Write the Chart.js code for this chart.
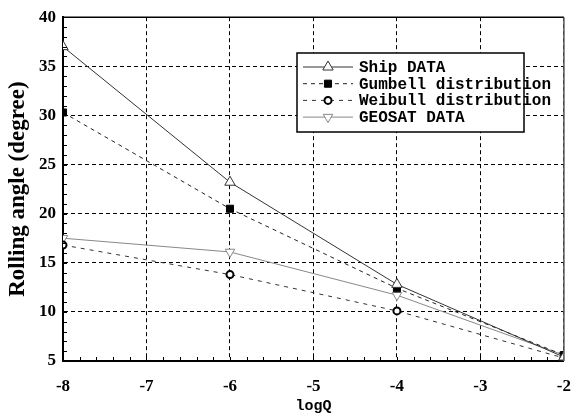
<!DOCTYPE html>
<html>
<head>
<meta charset="UTF-8">
<title>Rolling angle vs logQ</title>
<script src="https://cdn.jsdelivr.net/npm/chart.js"></script>
<style>
  body { margin: 0; background: #fff; }
  #wrap { width: 586px; height: 419px; }
</style>
</head>
<body>
<div id="wrap"><canvas id="c" width="586" height="419"></canvas></div>
<script>
// data
const logQ = [-8, -6, -4, -2];
const shipData = [37.0, 23.2, 12.8, 5.4];
const gumbell = [30.3, 20.5, 12.4, 5.6];
const weibull = [16.8, 13.8, 10.1, 5.3];
const geosat = [17.5, 16.1, 11.7, 5.6];
const seriesNames = ['Ship DATA', 'Gumbell distribution', 'Weibull distribution', 'GEOSAT DATA'];

const toPts = arr => arr.map((v, i) => ({ x: logQ[i], y: v }));

// small inward ticks along left and bottom axes
const minorTicks = {
  id: 'minorTicks',
  afterDraw(chart) {
    const { ctx, scales: { x, y }, chartArea: a } = chart;
    ctx.save();
    ctx.strokeStyle = '#000';
    ctx.lineWidth = 1;
    ctx.beginPath();
    for (let v = -8; v <= -2.001; v += 0.2) {
      const px = Math.round(x.getPixelForValue(v)) + 0.5;
      ctx.moveTo(px, a.bottom);
      ctx.lineTo(px, a.bottom - 4);
    }
    for (let v = 5; v <= 40; v += 1) {
      const py = Math.round(y.getPixelForValue(v)) + 0.5;
      ctx.moveTo(a.left, py);
      ctx.lineTo(a.left + 4, py);
    }
    ctx.stroke();
    ctx.restore();
  }
};

// legend box drawn inside the plot
const boxLegend = {
  id: 'boxLegend',
  afterDraw(chart) {
    const ctx = chart.ctx;
    const bx = 297, by = 53, bw = 227, bh = 79;
    ctx.save();
    ctx.fillStyle = '#fff';
    ctx.fillRect(bx, by, bw, bh);
    ctx.strokeStyle = '#000';
    ctx.lineWidth = 1.5;
    ctx.strokeRect(bx, by, bw, bh);
    chart.data.datasets.forEach((ds, i) => {
      const ry = 67 + i * 16.7;
      ctx.strokeStyle = ds.borderColor;
      ctx.lineWidth = 1;
      ctx.setLineDash(ds.borderDash || []);
      ctx.beginPath();
      ctx.moveTo(303, ry);
      ctx.lineTo(353, ry);
      ctx.stroke();
      ctx.setLineDash([]);
      ctx.fillStyle = ds.pointBackgroundColor;
      ctx.strokeStyle = ds.pointBorderColor;
      ctx.lineWidth = ds.pointBorderWidth;
      Chart.helpers.drawPoint(ctx, {
        pointStyle: ds.pointStyle,
        rotation: ds.pointRotation || 0,
        radius: ds.pointRadius,
        borderWidth: ds.pointBorderWidth
      }, 328, ry);
      ctx.fillStyle = '#000';
      ctx.font = 'bold 16px "Liberation Mono", monospace';
      ctx.textBaseline = 'middle';
      ctx.fillText(ds.label, 359, ry + 1);
    });
    ctx.restore();
  }
};

// frame: right edge gray, top black
const frame = {
  id: 'frame',
  afterDraw(chart) {
    const { ctx, chartArea: a } = chart;
    ctx.save();
    ctx.lineWidth = 1.5;
    ctx.strokeStyle = '#000';
    ctx.beginPath();
    ctx.moveTo(a.left, a.top);
    ctx.lineTo(a.right, a.top);
    ctx.stroke();
    ctx.strokeStyle = '#555';
    ctx.beginPath();
    ctx.moveTo(a.right, a.top);
    ctx.lineTo(a.right, a.bottom);
    ctx.stroke();
    ctx.restore();
  }
};

new Chart(document.getElementById('c'), {
  type: 'line',
  data: {
    datasets: [
      {
        label: seriesNames[0], data: toPts(shipData),
        borderColor: '#333', borderWidth: 1,
        pointStyle: 'triangle', pointRadius: 6,
        pointBackgroundColor: '#fff', pointBorderColor: '#333', pointBorderWidth: 1
      },
      {
        label: seriesNames[1], data: toPts(gumbell),
        borderColor: '#222', borderWidth: 1, borderDash: [4, 4],
        pointStyle: 'rect', pointRadius: 5,
        pointBackgroundColor: '#000', pointBorderColor: '#000', pointBorderWidth: 1
      },
      {
        label: seriesNames[2], data: toPts(weibull),
        borderColor: '#333', borderWidth: 1, borderDash: [4, 5],
        pointStyle: 'circle', pointRadius: 3.5,
        pointBackgroundColor: '#fff', pointBorderColor: '#000', pointBorderWidth: 2
      },
      {
        label: seriesNames[3], data: toPts(geosat),
        borderColor: '#888', borderWidth: 1,
        pointStyle: 'triangle', pointRotation: 180, pointRadius: 5.5,
        pointBackgroundColor: '#fff', pointBorderColor: '#888', pointBorderWidth: 1
      }
    ]
  },
  options: {
    responsive: false,
    animation: false,
    layout: { padding: { top: 15, right: 11, left: 0, bottom: 0 } },
    plugins: { legend: { display: false }, tooltip: { enabled: false } },
    scales: {
      x: {
        type: 'linear', min: -8, max: -2,
        afterFit: s => { s.height = 58; },
        ticks: {
          stepSize: 1, color: '#000', padding: 15,
          font: { family: '"Liberation Serif", serif', size: 17, weight: 'bold' }
        },
        grid: { color: '#000', lineWidth: 1, drawTicks: false },
        border: { display: true, color: '#000', width: 2, dash: [4, 3] },
        title: {
          display: true, text: 'logQ', color: '#000', padding: { top: 3 },
          font: { family: '"Liberation Mono", monospace', size: 15, weight: 'bold' }
        }
      },
      y: {
        min: 5, max: 40,
        afterFit: s => { s.width = 63; },
        ticks: {
          stepSize: 5, color: '#000', padding: 7,
          font: { family: '"Liberation Serif", serif', size: 17, weight: 'bold' }
        },
        grid: { color: '#000', lineWidth: 1, drawTicks: false },
        border: { display: true, color: '#000', width: 2, dash: [4, 3] },
        title: {
          display: true, text: 'Rolling angle (degree)', color: '#000', padding: { bottom: 0 },
          font: { family: '"Liberation Serif", serif', size: 23, weight: 'bold' }
        }
      }
    }
  },
  plugins: [minorTicks, frame, boxLegend]
});
</script>
</body>
</html>
